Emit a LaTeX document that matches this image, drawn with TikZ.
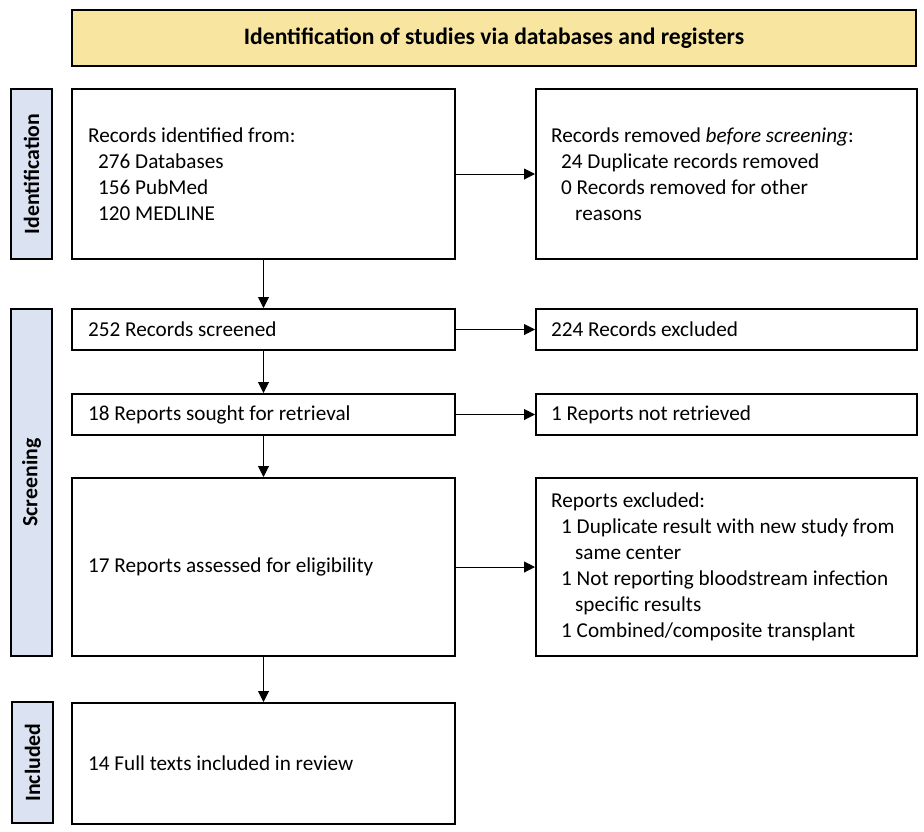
\documentclass[tikz,border=0pt]{standalone}
\usepackage{fontspec}
\setmainfont{Carlito}
\usetikzlibrary{arrows.meta}
\definecolor{hdrfill}{RGB}{248,230,160}
\definecolor{sidefill}{RGB}{219,227,242}
\begin{document}
\begin{tikzpicture}[x=1pt,y=-1pt,
  box/.style={draw, line width=2pt, anchor=north west, inner sep=0pt},
  lbox/.style={box, minimum width=383pt, minimum height=#1},
  rbox/.style={box, minimum width=381pt, minimum height=#1},
  txt/.style={anchor=west, align=left, inner sep=0pt, font=\fontsize{21.2}{26}\selectfont},
  sidebox/.style={draw, line width=2pt, fill=sidefill, anchor=north west, minimum width=41pt,
    minimum height=#1, inner sep=0pt, font=\bfseries\fontsize{21.8}{24}\selectfont},
  arr/.style={line width=1pt, -{Triangle[length=11pt,width=11pt]}}]
\useasboundingbox (0,0) rectangle (924,831);
% header
\node[draw, line width=2pt, fill=hdrfill, anchor=north west, minimum width=844pt, minimum height=56pt,
  font=\bfseries\fontsize{23.6}{26}\selectfont] (hdr) at (71,9) {Identification of studies via databases and registers};
% side labels
\node[sidebox=170pt] (sid) at (10,88) {\rotatebox{90}{Identification}};
\node[sidebox=347pt] (sscr) at (10,308) {\rotatebox{90}{Screening}};
\node[sidebox=121pt] (sinc) at (11,701) {\rotatebox{90}{Included}};
% left boxes
\node[lbox=170pt] (b1) at (71,88) {};
\node[lbox=41pt] (b2) at (71,308) {};
\node[lbox=41pt] (b3) at (71,393) {};
\node[lbox=178pt] (b4) at (71,477) {};
\node[lbox=121pt] (b5) at (71,702) {};
% right boxes
\node[rbox=170pt] (r1) at (535,88) {};
\node[rbox=41pt] (r2) at (535,308) {};
\node[rbox=41pt] (r3) at (535,393) {};
\node[rbox=178pt] (r4) at (535,477) {};
% texts
\node[txt] (tb1) at ([xshift=17pt]b1.west) {Records identified from:\\
  \hspace*{10pt}276 Databases\\
  \hspace*{10pt}156 PubMed\\
  \hspace*{10pt}120 MEDLINE};
\node[txt] (tb2) at ([xshift=17pt]b2.west) {252 Records screened};
\node[txt] (tb3) at ([xshift=17pt]b3.west) {18 Reports sought for retrieval};
\node[txt] (tb4) at ([xshift=17pt]b4.west) {17 Reports assessed for eligibility};
\node[txt] (tb5) at ([xshift=17pt]b5.west) {14 Full texts included in review};
\node[txt] (tr1) at ([xshift=16pt]r1.west) {Records removed \textit{before screening}:\\
  \hspace*{10pt}24 Duplicate records removed\\
  \hspace*{10pt}0 Records removed for other\\
  \hspace*{24pt}reasons};
\node[txt] (tr2) at ([xshift=16pt]r2.west) {224 Records excluded};
\node[txt] (tr3) at ([xshift=16pt]r3.west) {1 Reports not retrieved};
\node[txt] (tr4) at ([xshift=16pt]r4.west) {Reports excluded:\\
  \hspace*{10pt}1 Duplicate result with new study from\\
  \hspace*{24pt}same center\\
  \hspace*{10pt}1 Not reporting bloodstream infection\\
  \hspace*{24pt}specific results\\
  \hspace*{10pt}1 Combined/composite transplant};
% arrows
\draw[arr] (b1) -- (b2);
\draw[arr] (b2) -- (b3);
\draw[arr] (b3) -- (b4);
\draw[arr] (b4) -- (b5);
\draw[arr] (b1) -- (r1);
\draw[arr] (b2) -- (r2);
\draw[arr] (b3) -- (r3);
\draw[arr] (b4) -- (r4);
\end{tikzpicture}
\end{document}
